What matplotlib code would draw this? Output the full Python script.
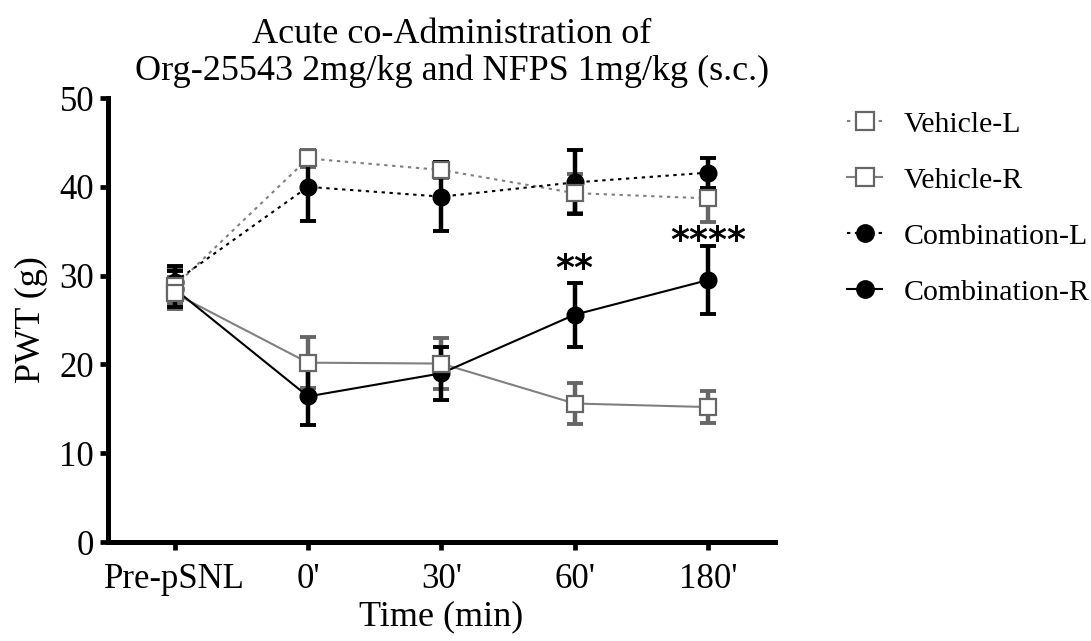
import matplotlib
matplotlib.use("Agg")
import matplotlib.pyplot as plt
from matplotlib.lines import Line2D

plt.rcParams['font.family'] = ['Liberation Serif', 'DejaVu Serif']

categories = ["Pre-pSNL", "0'", "30'", "60'", "180'"]
veh_L = [28.8, 43.2, 41.9, 39.3, 38.7]
veh_L_err = [2.0, 1.0, 0.9, 2.2, 2.7]
veh_R = [28.0, 20.2, 20.1, 15.6, 15.2]
veh_R_err = [1.8, 2.9, 2.9, 2.3, 1.8]
comb_L = [29.3, 40.0, 38.9, 40.5, 41.6]
comb_L_err = [1.8, 3.9, 3.9, 3.6, 1.7]
comb_R = [28.5, 16.4, 19.0, 25.6, 29.5]
comb_R_err = [2.0, 3.2, 3.0, 3.6, 3.8]
sig_labels = ["", "", "", "**", "****"]
sig_heights = [None, None, None, 31.2, 34.3]
title_text = "Acute co-Administration of\nOrg-25543 2mg/kg and NFPS 1mg/kg (s.c.)"
legend_labels = ["Vehicle-L", "Vehicle-R", "Combination-L", "Combination-R"]

x = list(range(len(categories)))

fig = plt.figure(figsize=(10.91, 6.41), dpi=100)
ax = fig.add_axes([0.099, 0.1544, 0.611, 0.6926])

gray_line = '#808080'
gray_mk = '#666666'
dot = (0, (1.6, 2.2))

err_kw = dict(elinewidth=3.2, capsize=6, capthick=2.8)

series = [
    (veh_L, veh_L_err, gray_line, gray_mk, dot, 's', 'white'),
    (veh_R, veh_R_err, gray_line, gray_mk, '-', 's', 'white'),
    (comb_L, comb_L_err, 'black', 'black', dot, 'o', 'black'),
    (comb_R, comb_R_err, 'black', 'black', '-', 'o', 'black'),
]
handles = []
for vals, errs, lc, mc, ls, mk, fc in series:
    ax.errorbar(x, vals, yerr=errs, fmt='none', ecolor=mc, zorder=2, **err_kw)
    ax.plot(x, vals, color=lc, linestyle=ls, lw=1.5, zorder=3)
    ax.plot(x, vals, linestyle='none', marker=mk, ms=12, mfc=fc, mec=mc,
            mew=1.6 if mk == 's' else 1.0, zorder=5 if mk == 's' else 4)
    handles.append(Line2D([], [], color=lc, linestyle=ls, lw=1.5, marker=mk, ms=12.5,
                          mfc=fc, mec=mc, mew=1.6 if mk == 's' else 1.0))

for xi, lab, h in zip(x, sig_labels, sig_heights):
    if lab:
        ax.text(xi, h, lab, ha='center', va='center_baseline', fontsize=26,
                family=['DejaVu Sans'], fontweight='bold', color='black')

ax.set_xlim(-0.5, 4.5)
ax.set_ylim(0, 50)
ax.set_yticks([0, 10, 20, 30, 40, 50])
ax.set_xticks(x)
ax.set_xticklabels(categories)
ax.tick_params(axis='both', labelsize=25, width=3.4, length=6, direction='out')
ax.tick_params(axis='x', pad=9)
ax.tick_params(axis='y', pad=4)
for s in ['top', 'right']:
    ax.spines[s].set_visible(False)
for s in ['left', 'bottom']:
    ax.spines[s].set_linewidth(3.6)
ax.set_xlabel("Time (min)", fontsize=26, labelpad=3)
ax.set_ylabel("PWT (g)", fontsize=26, labelpad=8)
fig.text(452 / 1091, 1 - 53 / 641, title_text, ha='center', va='center',
         fontsize=26, linespacing=1.13, multialignment='center')

fig.legend(handles, legend_labels, loc='upper left', bbox_to_anchor=(847 / 1091, 1 - 111 / 641),
           frameon=False, fontsize=21.5, handlelength=1.18, handletextpad=0.72,
           labelspacing=0.97, borderaxespad=0, borderpad=0)

fig.savefig("out.png", dpi=100)
